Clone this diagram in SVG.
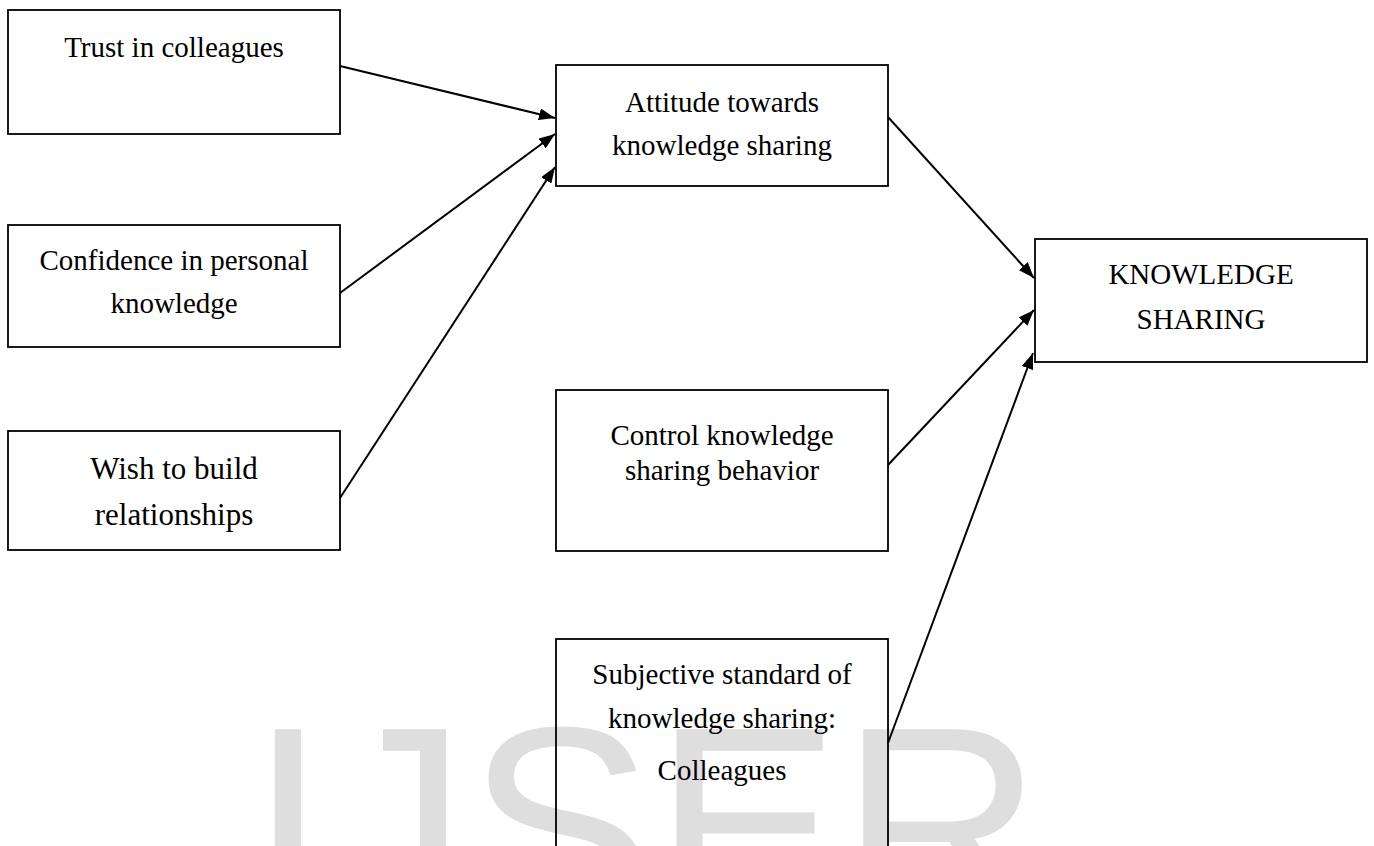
<svg xmlns="http://www.w3.org/2000/svg" width="1374" height="846" viewBox="0 0 1374 846">
  <style>
    .box { fill: none; stroke: #000; stroke-width: 1.8; }
    .lbl { font-family: "Liberation Serif", "Times New Roman", serif; font-size: 29px; fill: #000; text-anchor: middle; }
    .edge { fill: none; stroke: #000; stroke-width: 2; }
    .mark { font-family: "Liberation Sans", Arial, sans-serif; font-size: 280px; fill: #dedede; }
  </style>
  <defs>
    <marker id="arrow" markerUnits="userSpaceOnUse" markerWidth="16" markerHeight="12" refX="16" refY="6" orient="auto">
      <path d="M0,0 L16,6 L0,12 z" fill="#000"/>
    </marker>
  </defs>
  <rect width="1374" height="846" fill="#fff"/>

  <!-- publisher watermark behind the figure -->
  <text class="mark" x="249" y="922">IJSER</text>

  <g id="trust">
    <rect class="box" x="8" y="10" width="332" height="124"/>
    <text class="lbl" x="174" y="57">Trust in colleagues</text>
  </g>
  <g id="confidence">
    <rect class="box" x="8" y="225" width="332" height="122"/>
    <text class="lbl" x="174" y="270">Confidence in personal</text>
    <text class="lbl" x="174" y="313">knowledge</text>
  </g>
  <g id="wish">
    <rect class="box" x="8" y="431" width="332" height="119"/>
    <text class="lbl" x="174" y="479" style="font-size:31px">Wish to build</text>
    <text class="lbl" x="174" y="525" style="font-size:31px">relationships</text>
  </g>
  <g id="attitude">
    <rect class="box" x="556" y="65" width="332" height="121"/>
    <text class="lbl" x="722" y="112">Attitude towards</text>
    <text class="lbl" x="722" y="155">knowledge sharing</text>
  </g>
  <g id="control">
    <rect class="box" x="556" y="390" width="332" height="161"/>
    <text class="lbl" x="722" y="445">Control knowledge</text>
    <text class="lbl" x="722" y="480">sharing behavior</text>
  </g>
  <g id="subjective">
    <rect class="box" x="556" y="639" width="332" height="220"/>
    <text class="lbl" x="722" y="684">Subjective standard of</text>
    <text class="lbl" x="722" y="728">knowledge sharing:</text>
    <text class="lbl" x="722" y="780">Colleagues</text>
  </g>
  <g id="knowledge-sharing">
    <rect class="box" x="1035" y="239" width="332" height="123"/>
    <text class="lbl" x="1201" y="284">KNOWLEDGE</text>
    <text class="lbl" x="1201" y="329">SHARING</text>
  </g>

  <g id="connectors">
    <line class="edge" x1="340" y1="66" x2="555" y2="118" marker-end="url(#arrow)"/>
    <line class="edge" x1="340" y1="293" x2="555" y2="134" marker-end="url(#arrow)"/>
    <line class="edge" x1="340" y1="498" x2="555" y2="167" marker-end="url(#arrow)"/>
    <line class="edge" x1="888" y1="117" x2="1034" y2="278" marker-end="url(#arrow)"/>
    <line class="edge" x1="888" y1="465" x2="1034" y2="310" marker-end="url(#arrow)"/>
    <line class="edge" x1="888" y1="743" x2="1033" y2="353" marker-end="url(#arrow)"/>
  </g>
</svg>
